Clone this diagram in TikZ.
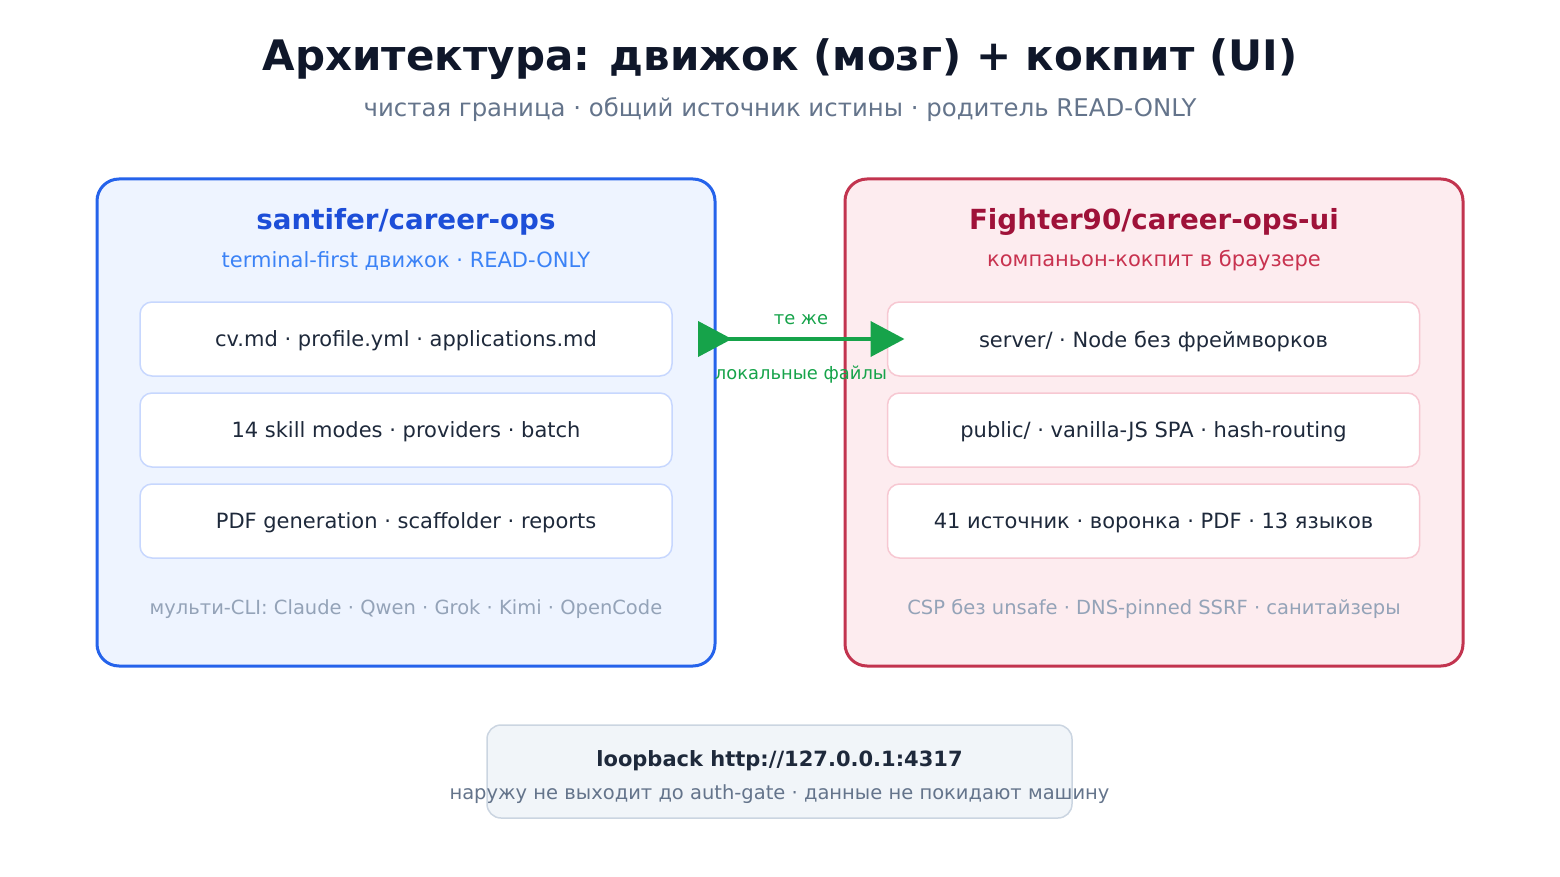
\documentclass[tikz,border=0pt]{standalone}
\usepackage{fontspec}
\setmainfont{DejaVu Sans}
\usetikzlibrary{arrows.meta,positioning,calc}
\definecolor{acInk}     {HTML}{0F172A}
\definecolor{acSlate}   {HTML}{64748B}
\definecolor{acMuted}   {HTML}{94A3B8}
\definecolor{acText}    {HTML}{1E293B}
\definecolor{acBlue}    {HTML}{2563EB}
\definecolor{acBlueDk}  {HTML}{1D4ED8}
\definecolor{acBlueMd}  {HTML}{3B82F6}
\definecolor{acBlueBg}  {HTML}{EEF4FF}
\definecolor{acBlueLn}  {HTML}{C7D7FE}
\definecolor{acRed}     {HTML}{C2344F}
\definecolor{acRedDk}   {HTML}{9F1239}
\definecolor{acRedMd}   {HTML}{C8324F}
\definecolor{acRedBg}   {HTML}{FDECEF}
\definecolor{acRedLn}   {HTML}{F7C8D2}
\definecolor{acGreen}   {HTML}{16A34A}
\definecolor{acGrayBg}  {HTML}{F1F5F9}
\definecolor{acGrayLn}  {HTML}{CBD5E1}
\newcommand{\fs}[1]{\fontsize{#1}{#1}\selectfont}

\begin{document}
\begin{tikzpicture}[x=1pt,y=-1pt,node distance=17pt,
      txt/.style={inner sep=0pt,outer sep=0pt,anchor=center},
      panel/.style={line width=3pt,rounded corners=22pt,outer sep=0pt,
                    minimum width=618pt,minimum height=487pt},
      item/.style={fill=white,line width=1.5pt,rounded corners=12pt,outer sep=0pt,
                   minimum width=532pt,minimum height=74pt,inner sep=0pt,text depth=0pt,
                   font=\fs{21},text=acText},
      flow/.style={draw=acGreen,line width=4pt,
                   {Triangle[reversed,length=34pt,width=35pt]}-{Triangle[length=34pt,width=35pt]},
                   shorten <=-17pt,shorten >=-17pt}]
    \useasboundingbox (0,0) rectangle (1560,877);
    % heading
    \node[txt,font=\bfseries\fs{42},text=acInk] (title) at (780,59)
       {Архитектура: движок (мозг) + кокпит (UI)};
    \node[txt,font=\fs{24.4},text=acSlate] (subtitle) at (780,110)
       {чистая граница · общий источник истины · родитель READ-ONLY};
    % engine
    \node[panel,draw=acBlue,fill=acBlueBg] (lbox) at (406,422.5) {};
    \node[txt,font=\bfseries\fs{27.7},text=acBlueDk] (ltitle) at (406,222) {santifer/career-ops};
    \node[txt,font=\fs{21},text=acBlueMd] (lsub) at (406,261) {terminal-first движок · READ-ONLY};
    \node[item,draw=acBlueLn] (l1) at (406,339) {cv.md · profile.yml · applications.md};
    \node[item,draw=acBlueLn,below=of l1] (l2) {14 skill modes · providers · batch};
    \node[item,draw=acBlueLn,below=of l2] (l3) {PDF generation · scaffolder · reports};
    \node[txt,font=\fs{19.5},text=acMuted] (lfoot) at (406,609)
       {мульти-CLI: Claude · Qwen · Grok · Kimi · OpenCode};
    % cockpit
    \node[panel,draw=acRed,fill=acRedBg] (rbox) at (1154,422.5) {};
    \node[txt,font=\bfseries\fs{27.7},text=acRedDk] (rtitle) at (1154,222) {Fighter90/career-ops-ui};
    \node[txt,font=\fs{21},text=acRedMd] (rsub) at (1154,261) {компаньон-кокпит в браузере};
    \node[item,draw=acRedLn] (r1) at (1153.5,339) {server/ · Node без фреймворков};
    \node[item,draw=acRedLn,below=of r1] (r2) {public/ · vanilla-JS SPA · hash-routing};
    \node[item,draw=acRedLn,below=of r2] (r3) {41 источник · воронка · PDF · 13 языков};
    \node[txt,font=\fs{19.5},text=acMuted] (rfoot) at (1154,609)
       {CSP без unsafe · DNS-pinned SSRF · санитайзеры};
    % shared files
    \draw[flow] (lbox.east |- l1.center) -- (r1.west);
    \node[txt,font=\fs{17.9},text=acGreen] (same) at (801,320) {те же};
    \node[txt,font=\fs{17.9},text=acGreen] (files) at (801,375) {локальные файлы};
    % loopback
    \node[fill=acGrayBg,draw=acGrayLn,line width=1.5pt,rounded corners=14pt,
          minimum width=585pt,minimum height=93pt] (loop) at (779.5,771.5) {};
    \node[txt,font=\bfseries\fs{21},text=acText] (loopt) at (779.5,761) {loopback http://127.0.0.1:4317};
    \node[txt,font=\fs{19.5},text=acSlate] (loops) at (779.5,794)
       {наружу не выходит до auth-gate · данные не покидают машину};
\end{tikzpicture}
\end{document}
